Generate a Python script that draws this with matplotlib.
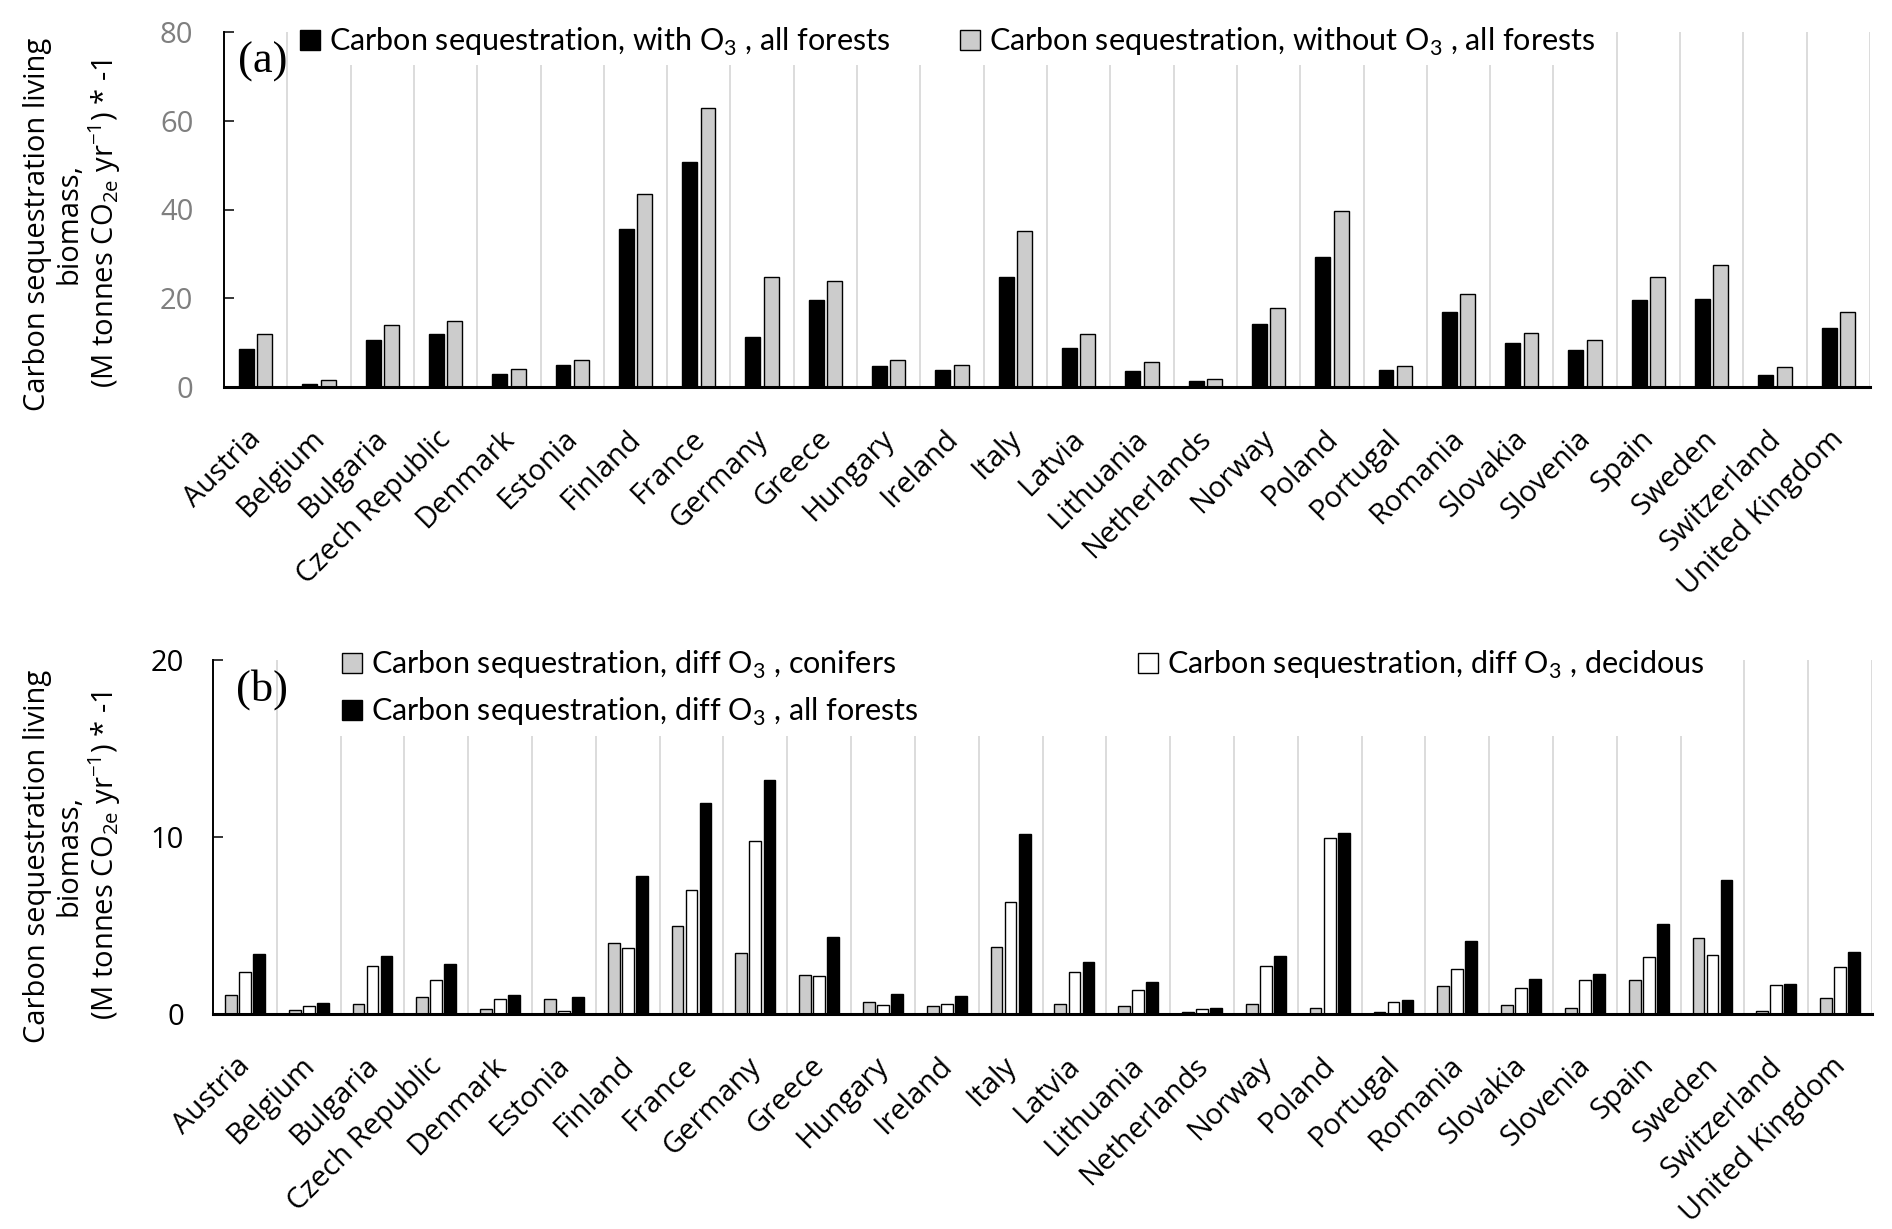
import numpy as np
import matplotlib
matplotlib.use("Agg")
import matplotlib.pyplot as plt
from matplotlib.patches import Patch
from matplotlib.transforms import ScaledTranslation

countries = ["Austria", "Belgium", "Bulgaria", "Czech Republic", "Denmark", "Estonia",
             "Finland", "France", "Germany", "Greece", "Hungary", "Ireland", "Italy",
             "Latvia", "Lithuania", "Netherlands", "Norway", "Poland", "Portugal",
             "Romania", "Slovakia", "Slovenia", "Spain", "Sweden", "Switzerland",
             "United Kingdom"]

# panel (a)
with_o3 = [8.5, 0.75, 10.6, 12.0, 3.0, 5.0, 35.6, 50.7, 11.3, 19.6, 4.7, 3.8, 24.9,
           8.8, 3.7, 1.3, 14.3, 29.4, 3.9, 16.8, 10.0, 8.3, 19.6, 19.8, 2.7, 13.4]
without_o3 = [12.0, 1.6, 14.0, 14.8, 4.1, 6.1, 43.5, 62.8, 24.7, 23.8, 6.0, 4.9, 35.1,
              11.9, 5.6, 1.9, 17.7, 39.6, 4.8, 21.0, 12.1, 10.6, 24.8, 27.4, 4.6, 17.0]

# panel (b)
conifers = [1.07, 0.24, 0.56, 0.94, 0.26, 0.85, 4.02, 5.0, 3.46, 2.18, 0.68, 0.45, 3.81,
            0.58, 0.47, 0.09, 0.58, 0.34, 0.13, 1.56, 0.53, 0.36, 1.92, 4.32, 0.15, 0.92]
decidous = [2.35, 0.45, 2.72, 1.93, 0.83, 0.19, 3.74, 7.0, 9.8, 2.14, 0.49, 0.56, 6.33,
            2.35, 1.37, 0.26, 2.72, 9.92, 0.66, 2.57, 1.48, 1.92, 3.21, 3.31, 1.63, 2.65]
all_forests = [3.4, 0.64, 3.29, 2.84, 1.05, 0.98, 7.77, 11.94, 13.2, 4.34, 1.15, 1.03, 10.16,
               2.91, 1.8, 0.34, 3.29, 10.22, 0.79, 4.13, 1.95, 2.25, 5.11, 7.59, 1.71, 3.53]

GRAY = "#cccccc"
TXT = ["Open Sans", "DejaVu Sans"]
LEG = ["Lato", "DejaVu Sans"]

plt.rcParams["mathtext.fontset"] = "custom"
plt.rcParams["mathtext.rm"] = "Open Sans"

W, H = 1892, 1229
fig = plt.figure(figsize=(W / 100, H / 100), dpi=100)


def px_axes(l, t, r, b):
    return fig.add_axes([l / W, 1 - b / H, (r - l) / W, (b - t) / H])


def style(ax, ymax, step, tickcolor, pad):
    n = len(countries)
    x = np.arange(n)
    ax.set_xlim(-0.5, n - 0.5)
    ax.set_ylim(0, ymax)
    yt = np.arange(0, ymax + 1, step)
    ax.set_yticks(yt)
    ax.set_yticklabels([str(v) for v in yt], fontsize=21, color=tickcolor, family=TXT)
    ax.set_xticks(x)
    ax.set_xticks(np.arange(n) + 0.5, minor=True)
    ax.grid(True, which="minor", axis="x", color="#d9d9d9", lw=1.3)
    ax.set_axisbelow(True)
    for s in ["top", "right"]:
        ax.spines[s].set_visible(False)
    ax.spines["bottom"].set_linewidth(2.2)
    ax.spines["left"].set_linewidth(1.4)
    ax.tick_params(axis="x", which="both", length=0, pad=27)
    ax.tick_params(axis="y", direction="in", length=7, width=1.1, pad=pad)
    ax.set_xticklabels(countries, rotation=45, ha="right", va="top",
                       rotation_mode="anchor", fontsize=21, family=TXT)
    for t in ax.get_xticklabels():
        t.set_transform(t.get_transform() + ScaledTranslation(-0.09, 0, fig.dpi_scale_trans))


ylab = ("Carbon sequestration living\nbiomass,\n"
        r"(M tonnes CO$_\mathrm{2e}$ yr$^\mathrm{-1}$) * -1")

# ---- (a)
ax1 = px_axes(224, 32, 1870, 387)
x = np.arange(len(countries))
ax1.bar(x - 0.145, with_o3, 0.235, color="black", edgecolor="black", lw=1.0)
ax1.bar(x + 0.145, without_o3, 0.235, color=GRAY, edgecolor="black", lw=1.0)
style(ax1, 80, 20, "#7f7f7f", 22)
h1 = [Patch(fc="black", ec="black", lw=1.0), Patch(fc=GRAY, ec="black", lw=1.0)]
l1 = [r"Carbon sequestration, with O$_\mathregular{3}$ , all forests",
      r"Carbon sequestration, without O$_\mathregular{3}$ , all forests"]
ax1.legend(h1, l1, loc="upper left", bbox_to_anchor=(292 / W, 1 - 18 / H),
           bbox_transform=fig.transFigure, ncol=2, frameon=True, fancybox=False,
           framealpha=1, facecolor="white", edgecolor="none", borderpad=0.25,
           borderaxespad=0, handlelength=0.65, handleheight=0.65,
           handletextpad=0.3, columnspacing=2.3, prop={"family": LEG, "size": 22})
fig.text(238 / W, 1 - 62 / H, "(a)", ha="left", va="center", fontsize=32,
         family="Liberation Serif")
fig.text(73 / W, 1 - 224 / H, ylab, rotation=90, ha="center", va="center",
         multialignment="center", fontsize=21, family=TXT, linespacing=1.12)

# ---- (b)
ax2 = px_axes(213, 660, 1872, 1014)
ax2.bar(x - 0.22, conifers, 0.185, color=GRAY, edgecolor="black", lw=1.0)
ax2.bar(x, decidous, 0.185, color="white", edgecolor="black", lw=1.0)
ax2.bar(x + 0.22, all_forests, 0.185, color="black", edgecolor="black", lw=1.0)
style(ax2, 20, 10, "black", 21)
h2 = [Patch(fc=GRAY, ec="black", lw=1.0), Patch(fc="black", ec="black", lw=1.0),
      Patch(fc="white", ec="black", lw=1.0)]
l2 = [r"Carbon sequestration, diff O$_\mathregular{3}$ , conifers",
      r"Carbon sequestration, diff O$_\mathregular{3}$ , all forests",
      r"Carbon sequestration, diff O$_\mathregular{3}$ , decidous"]
ax2.legend(h2, l2, loc="upper left", bbox_to_anchor=(334 / W, 1 - 641 / H),
           bbox_transform=fig.transFigure, ncol=2, frameon=True, fancybox=False,
           framealpha=1, facecolor="white", edgecolor="none", borderpad=0.25,
           borderaxespad=0, handlelength=0.65, handleheight=0.65, labelspacing=0.5,
           handletextpad=0.3, columnspacing=7.2, prop={"family": LEG, "size": 22})
fig.text(236 / W, 1 - 690 / H, "(b)", ha="left", va="center", fontsize=32,
         family="Liberation Serif")
fig.text(73 / W, 1 - 856 / H, ylab, rotation=90, ha="center", va="center",
         multialignment="center", fontsize=21, family=TXT, linespacing=1.12)

fig.savefig("out.png", dpi=100, facecolor="white")
